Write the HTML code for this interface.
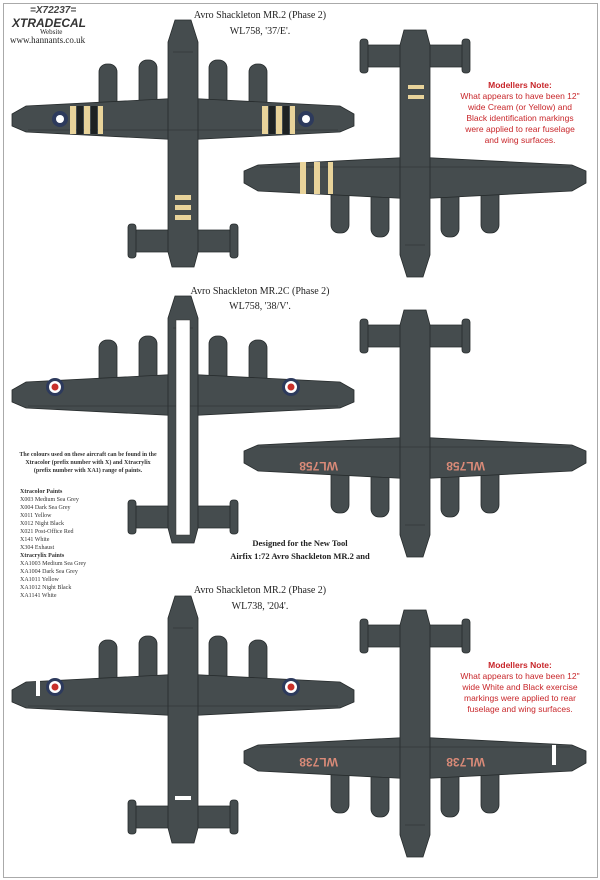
<!DOCTYPE html>
<html><head><meta charset="utf-8"><style>
html,body{margin:0;padding:0;background:#fff;}
body{width:600px;height:880px;overflow:hidden;position:relative;font-family:"Liberation Serif",serif;}
.t{position:absolute;text-align:center;color:#222;white-space:nowrap;}
.note{position:absolute;text-align:center;color:#c8262a;font-family:"Liberation Sans",sans-serif;font-size:8.5px;line-height:11px;}
.sm{position:absolute;font-size:6px;line-height:8px;color:#333;}
</style></head><body>
<div style="position:absolute;left:3px;top:3px;width:593px;height:873px;border:1px solid #aaa;"></div>
<svg width="600" height="880" style="position:absolute;left:0;top:0">
<defs>
<symbol id="pl" viewBox="0 0 350 260" width="350" height="260">
 <g fill="#454c4e" stroke="#262b2c" stroke-width="0.8">
  <rect x="91" y="52" width="18" height="56" rx="8"/>
  <rect x="131" y="48" width="18" height="60" rx="8"/>
  <rect x="201" y="48" width="18" height="60" rx="8"/>
  <rect x="241" y="52" width="18" height="56" rx="8"/>
  <path d="M175 86 L332 94 L346 102 L346 114 L332 120 L175 128 L18 120 L4 114 L4 102 L18 94 Z"/>
  <path d="M128 218 L222 218 L224 240 L126 240 Z"/>
  <rect x="120" y="212" width="8" height="34" rx="3"/>
  <rect x="222" y="212" width="8" height="34" rx="3"/>
  <path d="M167 8 L183 8 L190 30 L190 240 L186 255 L164 255 L160 240 L160 30 Z"/>
 </g>
 <g fill="none" stroke="#2a2f30" stroke-width="0.6">
  <line x1="20" y1="118" x2="330" y2="118"/>
  <line x1="165" y1="40" x2="185" y2="40"/>
 </g>
</symbol>
</defs>
<use href="#pl" x="8" y="12"/>
<g transform="translate(590,285) rotate(180)"><use href="#pl"/></g>
<use href="#pl" x="8" y="288"/>
<rect x="176" y="320" width="14" height="215" fill="#fff" stroke="#333" stroke-width="0.5"/>
<g transform="translate(590,565) rotate(180)"><use href="#pl"/></g>
<use href="#pl" x="8" y="588"/>
<g transform="translate(590,865) rotate(180)"><use href="#pl"/></g>
<g fill="#e8d39a">
 <rect x="70" y="106" width="6" height="28"/><rect x="84" y="106" width="6" height="28"/><rect x="98" y="106" width="5" height="28"/>
 <rect x="262" y="106" width="6" height="28"/><rect x="276" y="106" width="6" height="28"/><rect x="290" y="106" width="5" height="28"/>
 <rect x="175" y="195" width="16" height="5"/><rect x="175" y="205" width="16" height="5"/><rect x="175" y="215" width="16" height="5"/>
 <rect x="300" y="162" width="6" height="32"/><rect x="314" y="162" width="6" height="32"/><rect x="328" y="162" width="5" height="32"/>
 <rect x="408" y="85" width="16" height="4"/><rect x="408" y="95" width="16" height="4"/>
</g>
<g fill="#1e2223"><rect x="77" y="106" width="6" height="28"/><rect x="91" y="106" width="6" height="28"/><rect x="269" y="106" width="6" height="28"/><rect x="283" y="106" width="6" height="28"/></g>
<g>
 <circle cx="60" cy="119" r="8" fill="#2d3a5c"/><circle cx="60" cy="119" r="4" fill="#fff"/>
 <circle cx="306" cy="119" r="8" fill="#2d3a5c"/><circle cx="306" cy="119" r="4" fill="#fff"/>
 <circle cx="55" cy="387" r="9" fill="#2d3a5c"/><circle cx="55" cy="387" r="6" fill="#fff"/><circle cx="55" cy="387" r="3.5" fill="#c8302a"/>
 <circle cx="291" cy="387" r="9" fill="#2d3a5c"/><circle cx="291" cy="387" r="6" fill="#fff"/><circle cx="291" cy="387" r="3.5" fill="#c8302a"/>
 <circle cx="55" cy="687" r="9" fill="#2d3a5c"/><circle cx="55" cy="687" r="6" fill="#fff"/><circle cx="55" cy="687" r="3.5" fill="#c8302a"/>
 <circle cx="291" cy="687" r="9" fill="#2d3a5c"/><circle cx="291" cy="687" r="6" fill="#fff"/><circle cx="291" cy="687" r="3.5" fill="#c8302a"/>
</g>
<g fill="#fff"><rect x="36" y="676" width="4" height="20"/><rect x="175" y="796" width="16" height="4"/><rect x="552" y="745" width="4" height="20"/></g>
<g fill="#d98a78" font-family="Liberation Sans" font-size="12" font-weight="bold">
 <text x="455" y="470" transform="rotate(180 470 466)">WL758</text>
 <text x="302" y="470" transform="rotate(180 320 466)">WL758</text>
 <text x="455" y="766" transform="rotate(180 470 762)">WL738</text>
 <text x="302" y="766" transform="rotate(180 320 762)">WL738</text>
</g>
</svg>
<div class="t" style="left:30px;top:5px;font-family:'Liberation Sans',sans-serif;font-style:italic;font-weight:bold;font-size:10px;color:#444;">=X72237=</div>
<div class="t" style="left:12px;top:16px;font-family:'Liberation Sans',sans-serif;font-style:italic;font-weight:bold;font-size:12px;color:#333;">XTRADECAL</div>
<div class="t" style="left:40px;top:28px;font-size:7px;">Website</div>
<div class="t" style="left:10px;top:35px;font-size:9px;">www.hannants.co.uk</div>
<div class="t" style="left:160px;top:8px;width:200px;font-size:10px;line-height:16px;">Avro Shackleton MR.2 (Phase 2)<br>WL758, '37/E'.</div>
<div class="t" style="left:160px;top:284px;width:200px;font-size:10px;line-height:15px;">Avro Shackleton MR.2C (Phase 2)<br>WL758, '38/V'.</div>
<div class="t" style="left:160px;top:583px;width:200px;font-size:10px;line-height:16px;">Avro Shackleton MR.2 (Phase 2)<br>WL738, '204'.</div>
<div class="t" style="left:200px;top:537px;width:200px;font-size:8.5px;line-height:13px;font-weight:bold;">Designed for the New Tool<br>Airfix 1:72 Avro Shackleton MR.2 and</div>
<div class="note" style="left:455px;top:80px;width:130px;"><b>Modellers Note:</b><br>What appears to have been 12"<br>wide Cream (or Yellow) and<br>Black identification markings<br>were applied to rear fuselage<br>and wing surfaces.</div>
<div class="note" style="left:455px;top:660px;width:130px;"><b>Modellers Note:</b><br>What appears to have been 12"<br>wide White and Black exercise<br>markings were applied to rear<br>fuselage and wing surfaces.</div>
<div class="sm" style="left:18px;top:451px;width:140px;text-align:center;font-weight:bold;">The colours used on these aircraft can be found in the Xtracolor (prefix number with X) and Xtracrylix (prefix number with XA1) range of paints.</div>
<div class="sm" style="left:20px;top:488px;">
<b>Xtracolor Paints</b><br>X003 Medium Sea Grey<br>X004 Dark Sea Grey<br>X011 Yellow<br>X012 Night Black<br>X021 Post-Office Red<br>X141 White<br>X304 Exhaust<br><b>Xtracrylix Paints</b><br>XA1003 Medium Sea Grey<br>XA1004 Dark Sea Grey<br>XA1011 Yellow<br>XA1012 Night Black<br>XA1141 White</div>
</body></html>
